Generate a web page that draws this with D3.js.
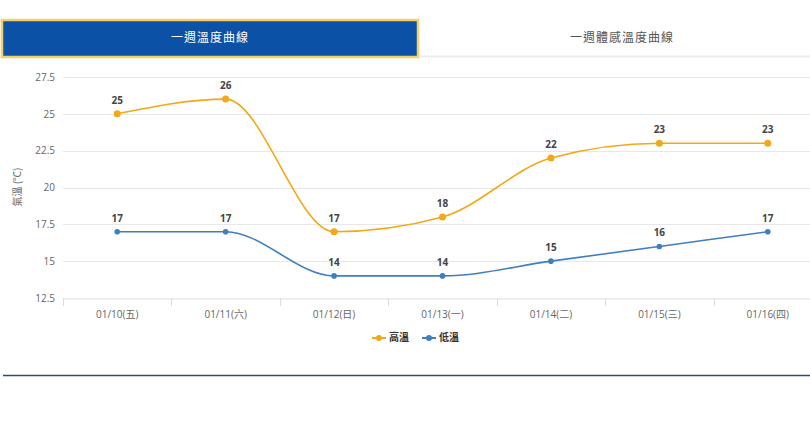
<!DOCTYPE html>
<html><head><meta charset="utf-8">
<script src="https://cdn.jsdelivr.net/npm/d3@7"></script>
<style>
html,body{margin:0;padding:0;background:#fff;overflow:hidden;}
svg{display:block;font-family:"Open Sans","Noto Sans CJK TC",sans-serif;}
</style></head><body>
<svg id="c" width="810" height="427"></svg>
<script>
const categories = ["01/10(五)","01/11(六)","01/12(日)","01/13(一)","01/14(二)","01/15(三)","01/16(四)"];
const highTemps = [25,26,17,18,22,23,23];
const lowTemps = [17,17,14,14,15,16,17];
const yTicks = [12.5,15,17.5,20,22.5,25,27.5];
const tabLabels = ["一週溫度曲線","一週體感溫度曲線"];
const seriesNames = ["高溫","低溫"];
const colors = ["#f2a818","#3f7fbf"];

const svg = d3.select("#c");
const cjk = '"Noto Sans CJK TC",sans-serif';

// tabs
svg.append("rect").attr("x",2).attr("y",20).attr("width",416).attr("height",37)
  .attr("fill","#0b52a6").attr("stroke","#f6cf6a").attr("stroke-width",2.5);
svg.append("line").attr("x1",419).attr("x2",810).attr("y1",56.5).attr("y2",56.5)
  .attr("stroke","#ececec").attr("stroke-width",2);
svg.append("text").attr("x",210).attr("y",39).attr("text-anchor","middle").attr("dominant-baseline","middle")
  .attr("fill","#fff").attr("font-size",12).attr("font-family",cjk).attr("letter-spacing",1).text(tabLabels[0]);
svg.append("text").attr("x",622).attr("y",39).attr("text-anchor","middle").attr("dominant-baseline","middle")
  .attr("fill","#555").attr("font-size",12).attr("font-family",cjk).attr("letter-spacing",1).text(tabLabels[1]);

// scales
const x = d3.scaleBand().domain(categories).range([63,822]);
const y = d3.scaleLinear().domain([12.5,27.5]).range([298,77]);

// grid
svg.append("g").selectAll("line").data(yTicks.slice(1)).join("line")
  .attr("x1",63).attr("x2",822).attr("y1",d=>Math.round(y(d))+0.5).attr("y2",d=>Math.round(y(d))+0.5)
  .attr("stroke","#e8e8e8");

// y axis labels
const yAxis = svg.append("g").attr("transform","translate(55,0)")
  .call(d3.axisLeft(y).tickValues(yTicks).tickSize(0).tickPadding(0).tickFormat(d=>d));
yAxis.select(".domain").remove();
yAxis.selectAll("text").attr("fill","#666").attr("font-size",10).attr("font-family","'Open Sans',sans-serif");

// y title
svg.append("text").attr("transform","translate(18,187) rotate(-90)").attr("text-anchor","middle")
  .attr("dominant-baseline","middle").attr("fill","#666").attr("font-size",10).attr("font-family",cjk).text("氣溫 (℃)");

// x axis
const xAxis = svg.append("g").attr("transform","translate(0,298.5)")
  .call(d3.axisBottom(x).tickSize(0).tickPadding(12));
xAxis.select(".domain").attr("stroke","#ddd");
xAxis.selectAll("text").attr("fill","#666").attr("font-size",10).attr("font-family","'Open Sans','Noto Sans CJK TC',sans-serif");
svg.append("g").selectAll("line").data(categories).join("line")
  .attr("x1",d=>Math.round(x(d))+0.5).attr("x2",d=>Math.round(x(d))+0.5).attr("y1",298).attr("y2",306)
  .attr("stroke","#ddd");

// series
const series = [highTemps, lowTemps];
const radii = [3.5, 2.8];
const line = d3.line().x((d,i)=>x(categories[i])+x.bandwidth()/2).y(d=>y(d)).curve(d3.curveMonotoneX);
series.forEach((vals,si)=>{
  const g = svg.append("g");
  g.append("path").attr("d",line(vals)).attr("fill","none").attr("stroke",colors[si]).attr("stroke-width",1.6);
  g.selectAll("circle").data(vals).join("circle")
    .attr("cx",(d,i)=>x(categories[i])+x.bandwidth()/2).attr("cy",d=>y(d)).attr("r",radii[si]).attr("fill",colors[si]);
  g.selectAll("text").data(vals).join("text")
    .attr("x",(d,i)=>x(categories[i])+x.bandwidth()/2).attr("y",d=>y(d)-10)
    .attr("text-anchor","middle").attr("fill","#444").attr("font-size",10).attr("font-weight","bold")
    .attr("font-family","'Open Sans',sans-serif").text(d=>d);
});

// legend
const lg = svg.append("g").attr("transform","translate(372,338)");
seriesNames.forEach((n,i)=>{
  const gx = i*50;
  lg.append("line").attr("x1",gx).attr("x2",gx+14).attr("y1",0).attr("y2",0).attr("stroke",colors[i]).attr("stroke-width",2);
  lg.append("circle").attr("cx",gx+7).attr("cy",0).attr("r",3).attr("fill",colors[i]);
  lg.append("text").attr("x",gx+17).attr("y",0).attr("dominant-baseline","middle").attr("fill","#333")
    .attr("font-size",10).attr("font-weight","bold").attr("font-family",cjk).text(n);
});

// bottom rule
svg.append("line").attr("x1",3).attr("x2",810).attr("y1",375.5).attr("y2",375.5).attr("stroke","#2c4a6e").attr("stroke-width",1.5);
</script>
</body></html>
